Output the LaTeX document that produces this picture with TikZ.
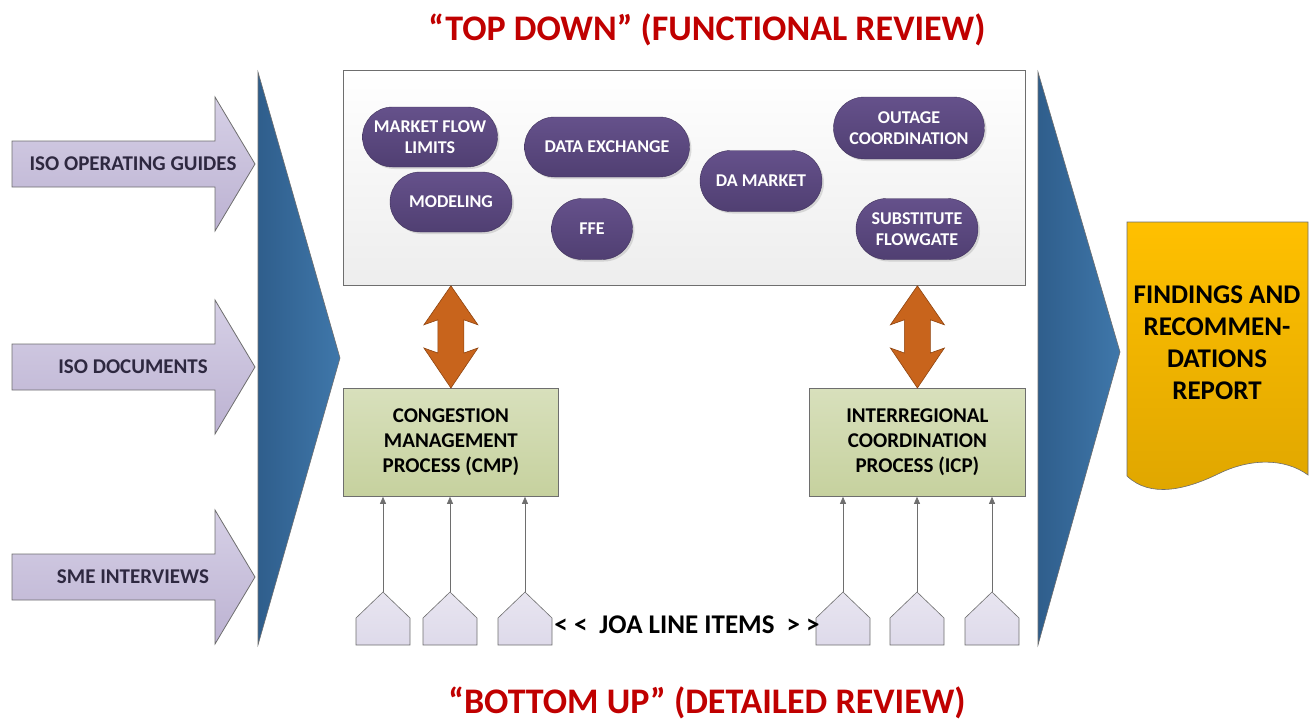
\documentclass[tikz,border=0pt]{standalone}
\usepackage{fontspec}
\setmainfont{Carlito}
\usetikzlibrary{shapes.misc,shadows,arrows.meta,calc}
\definecolor{titlered}{HTML}{C00000}
\definecolor{lavtop}{HTML}{D6D0E6}
\definecolor{lavbot}{HTML}{BCB2D2}
\definecolor{lavtext}{HTML}{2E2840}
\definecolor{blueL}{HTML}{2F5E8C}
\definecolor{blueR}{HTML}{3F77AA}
\definecolor{pilltop}{HTML}{65518B}
\definecolor{pillbot}{HTML}{503F72}
\definecolor{orangeA}{HTML}{C8641C}
\definecolor{orangeB}{HTML}{8E4410}
\definecolor{greentop}{HTML}{D8E0BC}
\definecolor{greenbot}{HTML}{C6D19E}
\definecolor{doctop}{HTML}{FFC000}
\definecolor{docbot}{HTML}{DFA600}
\definecolor{pentfill}{HTML}{DEDAEA}
\definecolor{edgegray}{HTML}{6E6E6E}
\begin{document}
\begin{tikzpicture}[x=1pt,y=-1pt,
  font=\bfseries,
  titletext/.style={text=titlered, font=\fontsize{36}{40}\selectfont\bfseries},
  lavarrow/.style={draw=edgegray, line width=0.8pt, top color=lavtop, bottom color=lavbot},
  lavlabel/.style={text=lavtext, font=\fontsize{21}{24}\selectfont\bfseries},
  bluetri/.style={draw=edgegray, line width=0.6pt, left color=blueL, right color=blueR},
  topframe/.style={draw=edgegray, line width=0.8pt, top color=white, bottom color=black!7,
     minimum width=682pt, minimum height=215pt, anchor=north west, inner sep=0pt},
  pill/.style={rounded rectangle, top color=pilltop, bottom color=pillbot, draw=pillbot!80!black,
     line width=0.4pt, text=white, align=center, inner sep=0pt,
     font=\fontsize{18}{21}\selectfont\bfseries,
     drop shadow={shadow xshift=2pt, shadow yshift=-2pt, opacity=0.25}},
  orangearr/.style={draw=orangeB, line width=0.6pt, fill=orangeA},
  greenbox/.style={draw=edgegray, line width=0.8pt, top color=greentop, bottom color=greenbot,
     minimum height=108pt, anchor=north west, align=center, inner sep=0pt,
     font=\fontsize{21}{25}\selectfont\bfseries},
  pentagonshape/.style={draw=edgegray, line width=0.6pt, top color=pentfill!70!white, bottom color=pentfill},
  feeder/.style={draw=edgegray, line width=0.7pt, -{Triangle[length=7pt,width=6pt]}},
  doclabel/.style={align=center, font=\fontsize{27}{32}\selectfont\bfseries},
  joalabel/.style={font=\fontsize{27}{30}\selectfont\bfseries}
]
\useasboundingbox (0,0) rectangle (1316,721);

% titles
\node[titletext] (ttop) at (707,30) {“TOP DOWN” (FUNCTIONAL REVIEW)};
\node[titletext] (tbot) at (707,703) {“BOTTOM UP” (DETAILED REVIEW)};

% left input arrows
\foreach \cy/\nm/\txt in {164/inA/ISO OPERATING GUIDES, 367/inB/ISO DOCUMENTS, 577/inC/SME INTERVIEWS}{
  \draw[lavarrow] (12,{\cy-23}) -- (215,{\cy-23}) -- (215,{\cy-67}) -- (255,\cy)
     -- (215,{\cy+67}) -- (215,{\cy+23}) -- (12,{\cy+23}) -- cycle;
  \node[lavlabel] (\nm) at (133,\cy) {\txt};
}

% blue chevrons
\draw[bluetri] (258,72) -- (340,358) -- (258,645) -- cycle;
\coordinate (leftchev) at (340,358);
\draw[bluetri] (1038,72) -- (1120,352) -- (1038,645) -- cycle;
\coordinate (rightchev) at (1120,352);

% top functional box
\node[topframe] (topbox) at (343,70) {};

% pills
\node[pill, minimum width=135pt, minimum height=60pt] (mfl) at (430,137) {MARKET FLOW\\LIMITS};
\node[pill, minimum width=165pt, minimum height=60pt] (dex) at (607,147) {DATA EXCHANGE};
\node[pill, minimum width=122pt, minimum height=60pt] (mod) at (451,202) {MODELING};
\node[pill, minimum width=81pt, minimum height=61pt] (ffe) at (592,229) {FFE};
\node[pill, minimum width=122pt, minimum height=61pt] (dam) at (761,181) {DA MARKET};
\node[pill, minimum width=151pt, minimum height=62pt] (out) at (909,128) {OUTAGE\\COORDINATION};
\node[pill, minimum width=122pt, minimum height=61pt] (sub) at (917,229) {SUBSTITUTE\\FLOWGATE};

% process boxes
\node[greenbox, minimum width=215pt] (cmp) at (343,388) {CONGESTION\\MANAGEMENT\\PROCESS (CMP)};
\node[greenbox, minimum width=216pt] (icp) at (809,388) {INTERREGIONAL\\COORDINATION\\PROCESS (ICP)};

% orange double arrows between top box and process boxes
\foreach \bx in {cmp, icp}{
  \path (topbox.south -| \bx.north) coordinate (ua) (\bx.north) coordinate (la);
  \draw[orangearr, line join=miter] (ua) -- ($(ua)+(27,39)$) -- ($(ua)+(13,34)$) -- ($(la)+(13,-35)$)
     -- ($(la)+(27,-40)$) -- (la) -- ($(la)+(-27,-40)$) -- ($(la)+(-13,-35)$)
     -- ($(ua)+(-13,34)$) -- ($(ua)+(-27,39)$) -- cycle;
}

% JOA line item pentagons and feeders
\foreach \px/\nm/\bx in {383/p1/cmp, 450/p2/cmp, 525/p3/cmp, 843/p4/icp, 917/p5/icp, 992/p6/icp}{
  \draw[pentagonshape] ({\px-27},645) -- ({\px-27},618) -- (\px,592) -- ({\px+27},618) -- ({\px+27},645) -- cycle;
  \coordinate (\nm) at (\px,592);
  \draw[feeder] (\nm) -- (\nm |- \bx.south);
}
\node[joalabel] (joa) at (687,625) {< <\hspace{12pt}JOA LINE ITEMS\hspace{12pt}> >};

% findings document
\draw[draw=edgegray, line width=0.6pt, top color=doctop, bottom color=docbot]
  (1127,222) -- (1308,222) -- (1308,475)
  .. controls (1285,458) and (1250,458) .. (1218,474)
  .. controls (1185,490) and (1150,498) .. (1127,476) -- cycle;
\node[doclabel] (report) at (1217,343) {FINDINGS AND\\RECOMMEN-\\DATIONS\\REPORT};
\end{tikzpicture}
\end{document}
